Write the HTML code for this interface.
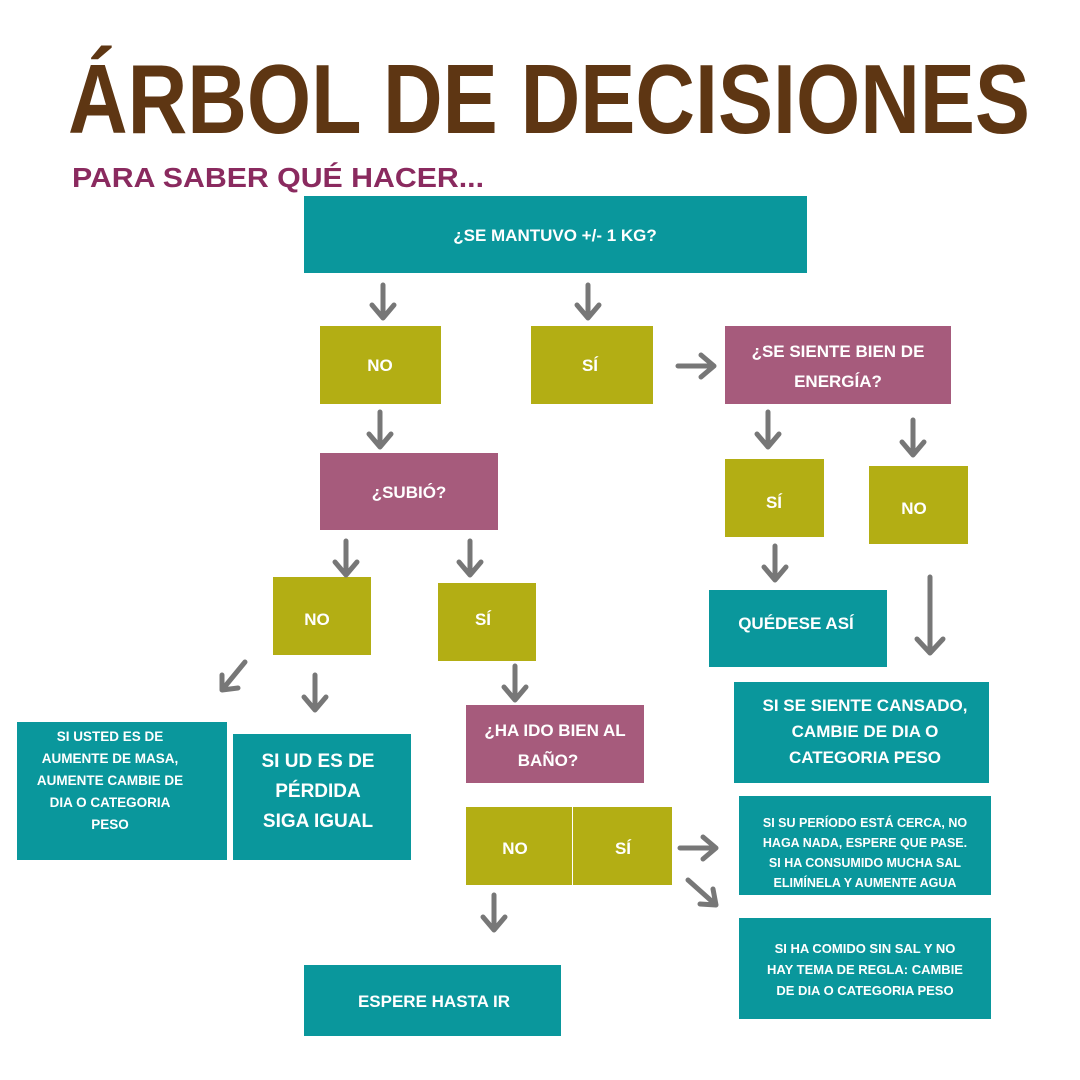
<!DOCTYPE html>
<html><head><meta charset="utf-8"><style>
html,body{margin:0;padding:0;background:#fff;}
svg{display:block;font-family:"Liberation Sans",sans-serif;font-weight:bold;}
</style></head><body>
<svg width="1080" height="1080" viewBox="0 0 1080 1080" xmlns="http://www.w3.org/2000/svg">
<rect width="1080" height="1080" fill="#fff"/>
<text x="68" y="133" font-size="98" fill="#5e3613" textLength="962" lengthAdjust="spacingAndGlyphs">ÁRBOL DE DECISIONES</text>
<text x="72" y="187" font-size="28" fill="#8a2a5f" textLength="412" lengthAdjust="spacingAndGlyphs">PARA SABER QUÉ HACER...</text>
<g>
<rect x="304" y="196" width="503" height="77" fill="#0a979c"/>
<rect x="320" y="326" width="121" height="78" fill="#b3ae14"/>
<rect x="531" y="326" width="122" height="78" fill="#b3ae14"/>
<rect x="725" y="326" width="226" height="78" fill="#a65b7c"/>
<rect x="320" y="453" width="178" height="77" fill="#a65b7c"/>
<rect x="725" y="459" width="99" height="78" fill="#b3ae14"/>
<rect x="869" y="466" width="99" height="78" fill="#b3ae14"/>
<rect x="273" y="577" width="98" height="78" fill="#b3ae14"/>
<rect x="438" y="583" width="98" height="78" fill="#b3ae14"/>
<rect x="709" y="590" width="178" height="77" fill="#0a979c"/>
<rect x="466" y="705" width="178" height="78" fill="#a65b7c"/>
<rect x="734" y="682" width="255" height="101" fill="#0a979c"/>
<rect x="17" y="722" width="210" height="138" fill="#0a979c"/>
<rect x="233" y="734" width="178" height="126" fill="#0a979c"/>
<rect x="466" y="807" width="106" height="78" fill="#b3ae14"/>
<rect x="573" y="807" width="99" height="78" fill="#b3ae14"/>
<rect x="739" y="796" width="252" height="99" fill="#0a979c"/>
<rect x="304" y="965" width="257" height="71" fill="#0a979c"/>
<rect x="739" y="918" width="252" height="101" fill="#0a979c"/>
</g>
<g fill="#fff" text-anchor="middle" font-size="17">
<text x="555" y="241">¿SE MANTUVO +/- 1 KG?</text>
<text x="380" y="371">NO</text>
<text x="590" y="371">SÍ</text>
<text x="838" y="357">¿SE SIENTE BIEN DE</text>
<text x="838" y="387">ENERGÍA?</text>
<text x="409" y="498">¿SUBIÓ?</text>
<text x="774" y="508">SÍ</text>
<text x="914" y="514">NO</text>
<text x="317" y="625">NO</text>
<text x="483" y="625">SÍ</text>
<text x="796" y="629">QUÉDESE ASÍ</text>
<text x="555" y="736">¿HA IDO BIEN AL</text>
<text x="548" y="766">BAÑO?</text>
<text x="865" y="711">SI SE SIENTE CANSADO,</text>
<text x="865" y="737">CAMBIE DE DIA O</text>
<text x="865" y="763">CATEGORIA PESO</text>
<text x="515" y="854">NO</text>
<text x="623" y="854">SÍ</text>
<text x="434" y="1007">ESPERE HASTA IR</text>
<g font-size="19"><text x="318" y="767">SI UD ES DE</text><text x="318" y="797">PÉRDIDA</text><text x="318" y="827">SIGA IGUAL</text></g>
<g font-size="13.5"><text x="110" y="741">SI USTED ES DE</text><text x="110" y="763">AUMENTE DE MASA,</text><text x="110" y="785">AUMENTE CAMBIE DE</text><text x="110" y="807">DIA O CATEGORIA</text><text x="110" y="829">PESO</text></g>
<g font-size="12.5"><text x="865" y="827">SI SU PERÍODO ESTÁ CERCA, NO</text><text x="865" y="847">HAGA NADA, ESPERE QUE PASE.</text><text x="865" y="867">SI HA CONSUMIDO MUCHA SAL</text><text x="865" y="887">ELIMÍNELA Y AUMENTE AGUA</text></g>
<g font-size="13"><text x="865" y="953">SI HA COMIDO SIN SAL Y NO</text><text x="865" y="974">HAY TEMA DE REGLA: CAMBIE</text><text x="865" y="995">DE DIA O CATEGORIA PESO</text></g>
</g>
<g stroke="#777" stroke-width="5" fill="none" stroke-linecap="round" stroke-linejoin="round">
<path d="M383 285V318M372 305L383 318L394 305"/>
<path d="M588 285V318M577 305L588 318L599 305"/>
<path d="M678 366H714M701 355L714 366L701 377"/>
<path d="M380 412V447M369 434L380 447L391 434"/>
<path d="M768 412V447M757 434L768 447L779 434"/>
<path d="M913 420V455M902 442L913 455L924 442"/>
<path d="M346 541V575M335 562L346 575L357 562"/>
<path d="M470 541V575M459 562L470 575L481 562"/>
<path d="M775 546V580M764 567L775 580L786 567"/>
<path d="M930 577V653M917 639L930 653L943 639"/>
<path d="M245 662L222 690M222 675L222 690L238 688"/>
<path d="M315 675V710M304 697L315 710L326 697"/>
<path d="M515 666V700M504 687L515 700L526 687"/>
<path d="M680 848H716M703 837L716 848L703 859"/>
<path d="M688 880L716 905M700 904L716 905L713 889"/>
<path d="M494 895V930M483 917L494 930L505 917"/>
</g>
</svg>
</body></html>
